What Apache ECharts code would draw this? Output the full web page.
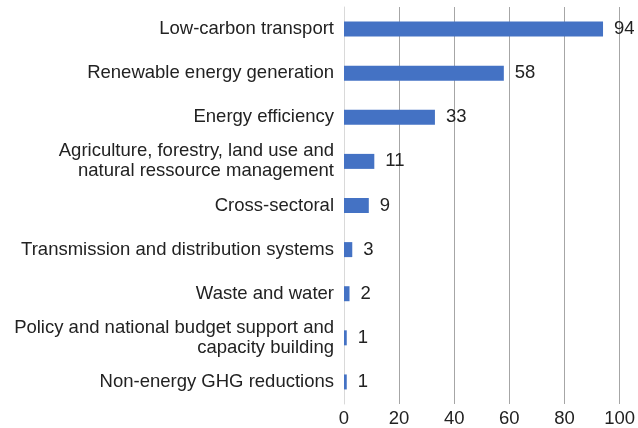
<!DOCTYPE html>
<html><head><meta charset="utf-8">
<script src="https://cdn.jsdelivr.net/npm/echarts@6/dist/echarts.min.js"></script>
<style>html,body{margin:0;padding:0;background:#fff}#c{width:638px;height:428px}</style>
</head><body><div id="c"></div>
<script>
var categories = [
  "Low-carbon transport",
  "Renewable energy generation",
  "Energy efficiency",
  "Agriculture, forestry, land use and\nnatural ressource management",
  "Cross-sectoral",
  "Transmission and distribution systems",
  "Waste and water",
  "Policy and national budget support and\ncapacity building",
  "Non-energy GHG reductions"
];
var values = [94, 58, 33, 11, 9, 3, 2, 1, 1];
var xTicks = [0, 20, 40, 60, 80, 100];

var FONT = 'Liberation Sans, Arial, Helvetica';
var chart = echarts.init(document.getElementById('c'), null, {renderer: 'canvas'});
chart.setOption({
  animation: false,
  grid: {left: 344, right: 17, top: 7, bottom: 24, containLabel: false},
  xAxis: {
    type: 'value', min: 0, max: 100, interval: 20,
    axisLine: {show: false}, axisTick: {show: false},
    splitLine: {show: true, lineStyle: {color: '#a6a6a6', width: 1}},
    axisLabel: {color: '#222', fontSize: 18.5, fontFamily: FONT, margin: 5,
      formatter: function (v) { return xTicks.indexOf(v) >= 0 ? String(v) : ''; }}
  },
  yAxis: {
    type: 'category', inverse: true, data: categories,
    axisLine: {show: true, lineStyle: {color: '#d9d9d9', width: 1}},
    axisTick: {show: false},
    axisLabel: {color: '#222', fontSize: 18.5, fontFamily: FONT, margin: 10,
      lineHeight: 20, align: 'right'}
  },
  series: [{
    type: 'bar', data: values, barWidth: 15,
    itemStyle: {color: '#4472C4'},
    label: {show: true, position: 'right', distance: 11, color: '#222', fontSize: 18.5,
      fontFamily: FONT}
  }]
});
</script></body></html>
